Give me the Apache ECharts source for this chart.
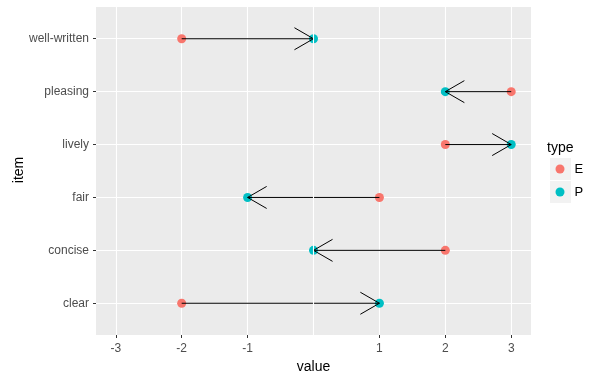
<!DOCTYPE html>
<html><head><meta charset="utf-8">
<script src="https://cdn.jsdelivr.net/npm/echarts@6/dist/echarts.min.js"></script>
<style>html,body{margin:0;padding:0;background:#fff}#c{width:607px;height:380px}</style>
</head><body><div id="c"></div>
<script>
const items = ['clear', 'concise', 'fair', 'lively', 'pleasing', 'well-written'];
const valuesE = [-2, 2, 1, 2, 3, -2];
const valuesP = [1, 0, -1, 3, 2, 0];
const xTicks = [-3, -2, -1, 1, 2, 3];
const xExtraGrid = [0];
const yTicks = [1, 2, 3, 4, 5, 6];
const xTitle = 'value';
const yTitle = 'item';
const legendTitle = 'type';

const chart = echarts.init(document.getElementById('c'), null, {renderer: 'canvas'});
const font = 'Liberation Sans, Arial, sans-serif';
const arrowData = items.map((it, i) => [valuesE[i], valuesP[i], i + 1]);

chart.setOption({
  animation: false,
  title: {text: legendTitle, left: 542, top: 136, textStyle: {fontFamily: font, fontSize: 14, fontWeight: 'normal', color: '#000'}},
  legend: {
    orient: 'vertical', left: 555.5, top: 162.5, padding: 0, itemWidth: 9, itemHeight: 9, itemGap: 10,
    icon: 'circle', data: ['E', 'P'],
    textStyle: {fontFamily: font, fontSize: 13, color: '#000', padding: [0, 0, 0, 5]}
  },
  graphic: [
    {type: 'rect', left: 550, top: 158, shape: {width: 21, height: 22}, style: {fill: '#F2F2F2'}, z: -1},
    {type: 'rect', left: 550, top: 181, shape: {width: 21, height: 22}, style: {fill: '#F2F2F2'}, z: -1},
    {type: 'text', x: 19.5, y: 170, rotation: Math.PI / 2,
      style: {text: yTitle, fontFamily: font, fontSize: 14, fill: '#000', align: 'center', verticalAlign: 'middle'}}
  ],
  grid: {left: 96, top: 7, width: 435, height: 328, show: true, backgroundColor: '#EBEBEB', borderWidth: 0,
    containLabel: false, outerBoundsMode: 'none'},
  xAxis: {
    type: 'value', min: -3.3, max: 3.3,
    name: xTitle, nameLocation: 'middle', nameGap: 25,
    nameTextStyle: {fontFamily: font, fontSize: 14, color: '#000'},
    axisLine: {show: false, onZero: false},
    axisTick: {show: true, customValues: xTicks, length: 3, lineStyle: {color: '#333'}},
    axisLabel: {customValues: xTicks, margin: 8, fontFamily: font, fontSize: 12, color: '#4D4D4D'},
    splitLine: {show: true, lineStyle: {color: '#fff', width: 1.1}}
  },
  yAxis: {
    type: 'value', min: 0.4, max: 6.6,
    axisLine: {show: false, onZero: false},
    axisTick: {show: true, customValues: yTicks, length: 3, lineStyle: {color: '#333'}},
    axisLabel: {customValues: yTicks, margin: 7, fontFamily: font, fontSize: 12, color: '#4D4D4D',
      formatter: v => items[Math.round(v) - 1] || ''},
    splitLine: {show: true, lineStyle: {color: '#fff', width: 1.1}}
  },
  series: [
    {type: 'scatter', data: [], z: 1, silent: true,
      markLine: {silent: true, symbol: 'none', label: {show: false}, animation: false,
        lineStyle: {color: '#fff', width: 1.1, type: 'solid'},
        data: xExtraGrid.map(v => ({xAxis: v}))}},
    {name: 'E', type: 'scatter', symbol: 'circle', symbolSize: 9, itemStyle: {color: '#F8766D', opacity: 1},
      data: items.map((it, i) => [valuesE[i], i + 1]), z: 2},
    {name: 'P', type: 'scatter', symbol: 'circle', symbolSize: 9, itemStyle: {color: '#00BFC4', opacity: 1},
      data: items.map((it, i) => [valuesP[i], i + 1]), z: 2},
    {type: 'custom', z: 3, silent: true, data: arrowData,
      renderItem: (params, api) => {
        const a = api.coord([api.value(0), api.value(2)]);
        const b = api.coord([api.value(1), api.value(2)]);
        const dir = Math.sign(b[0] - a[0]) || 1;
        const L = 22, ang = Math.PI / 6;
        const dx = -dir * L * Math.cos(ang), dy = L * Math.sin(ang);
        const st = {stroke: '#000', lineWidth: 1, fill: null};
        return {type: 'group', children: [
          {type: 'line', shape: {x1: a[0], y1: a[1], x2: b[0], y2: b[1]}, style: st},
          {type: 'polyline', shape: {points: [[b[0] + dx, b[1] - dy], [b[0], b[1]], [b[0] + dx, b[1] + dy]]}, style: st}
        ]};
      }}
  ]
});
</script></body></html>
